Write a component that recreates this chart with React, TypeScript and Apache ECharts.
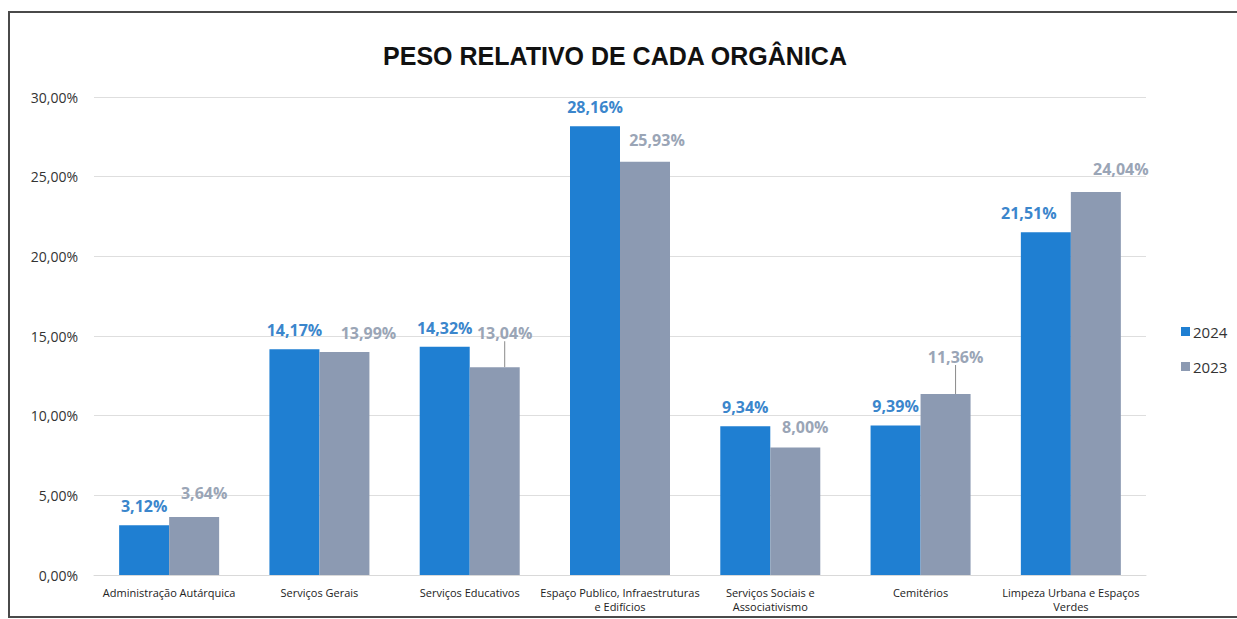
import React, { useEffect, useRef } from "react";
import * as echarts from "echarts";

const categories = [
  "Administração Autárquica",
  "Serviços Gerais",
  "Serviços Educativos",
  "Espaço Publico, Infraestruturas\ne Edifícios",
  "Serviços Sociais e\nAssociativismo",
  "Cemitérios",
  "Limpeza Urbana e Espaços\nVerdes",
];
const values2024 = [3.12, 14.17, 14.32, 28.16, 9.34, 9.39, 21.51];
const values2023 = [3.64, 13.99, 13.04, 25.93, 8.0, 11.36, 24.04];
const yTicks = [0, 5, 10, 15, 20, 25, 30];

const fmt = (v: number) => v.toFixed(2).replace(".", ",") + "%";

// label placement tweaks (style only)
const shift2023: Record<number, { dx: number; dy: number }> = {
  0: { dx: 10, dy: -5 },
  1: { dx: 24, dy: 0 },
  2: { dx: 10, dy: -15 },
  3: { dx: 12, dy: -3 },
  4: { dx: 10, dy: -2 },
  5: { dx: 10, dy: -18 },
  6: { dx: 25, dy: -4 },
};
const shift2024: Record<number, { dx: number; dy: number }> = {
  6: { dx: -17, dy: 0 },
};
const leaderIdx = [2, 5];

export default function App() {
  const ref = useRef<HTMLDivElement>(null);
  useEffect(() => {
    if (!ref.current) return;
    const chart = echarts.init(ref.current, undefined, { renderer: "svg" });
    chart.setOption({
      animation: false,
      backgroundColor: "#ffffff",
      textStyle: { fontFamily: "Open Sans" },
      graphic: [
        {
          type: "rect",
          shape: { x: 9, y: 12, width: 1240, height: 605 },
          style: { fill: "none", stroke: "#4a4a4a", lineWidth: 2 },
          silent: true,
        },
      ],
      title: {
        text: "PESO RELATIVO DE CADA ORGÂNICA",
        left: 610,
        top: 38,
        textAlign: "center",
        textStyle: {
          fontFamily: "Liberation Sans, Arial",
          fontSize: 25,
          fontWeight: "bold",
          color: "#111",
        },
      },
      legend: {
        orient: "vertical",
        left: 1176,
        top: 319,
        itemWidth: 9,
        itemHeight: 9,
        itemGap: 20,
        icon: "rect",
        data: ["2024", "2023"],
        textStyle: { fontSize: 15, color: "#333", padding: [0, 0, 0, -2] },
      },
      grid: { left: 94, right: 91, top: 97, bottom: 44, containLabel: false },
      xAxis: {
        type: "category",
        data: categories,
        axisLine: { lineStyle: { color: "#d9d9d9" } },
        axisTick: { show: false },
        axisLabel: {
          interval: 0,
          fontSize: 11,
          color: "#222",
          margin: 10,
          lineHeight: 14,
        },
      },
      yAxis: {
        type: "value",
        min: yTicks[0],
        max: yTicks[yTicks.length - 1],
        interval: 5,
        axisLine: { show: false },
        axisTick: { show: false },
        splitLine: { lineStyle: { color: "#dedede" } },
        axisLabel: {
          fontSize: 14,
          color: "#333",
          margin: 16,
          formatter: (v: number) => fmt(v),
        },
      },
      series: [
        {
          name: "2024",
          type: "bar",
          data: values2024,
          barWidth: 50,
          barGap: "0%",
          itemStyle: { color: "#1f7fd2" },
          label: {
            show: true,
            position: "top",
            distance: 11,
            fontSize: 16,
            fontWeight: "bold",
            color: "#3b86cc",
            formatter: (p: any) => fmt(p.value),
          },
          labelLayout: (p: any) => shift2024[p.dataIndex] || {},
        },
        {
          name: "2023",
          type: "bar",
          data: values2023.map((v, i) => ({
            value: v,
            labelLine: { show: leaderIdx.includes(i) },
          })),
          barWidth: 50,
          itemStyle: { color: "#8c9ab2" },
          label: {
            show: true,
            position: "top",
            distance: 11,
            fontSize: 16,
            fontWeight: "bold",
            color: "#9aa5b6",
            formatter: (p: any) => fmt(p.value),
          },
          labelLine: { show: false, lineStyle: { color: "#8a8a8a", width: 1 } },
          labelLayout: (p: any) => shift2023[p.dataIndex] || {},
        },
      ],
    });
    return () => chart.dispose();
  }, []);
  return (
    <div
      ref={ref}
      style={{ position: "fixed", left: 0, top: 0, width: 1237, height: 619 }}
    />
  );
}
